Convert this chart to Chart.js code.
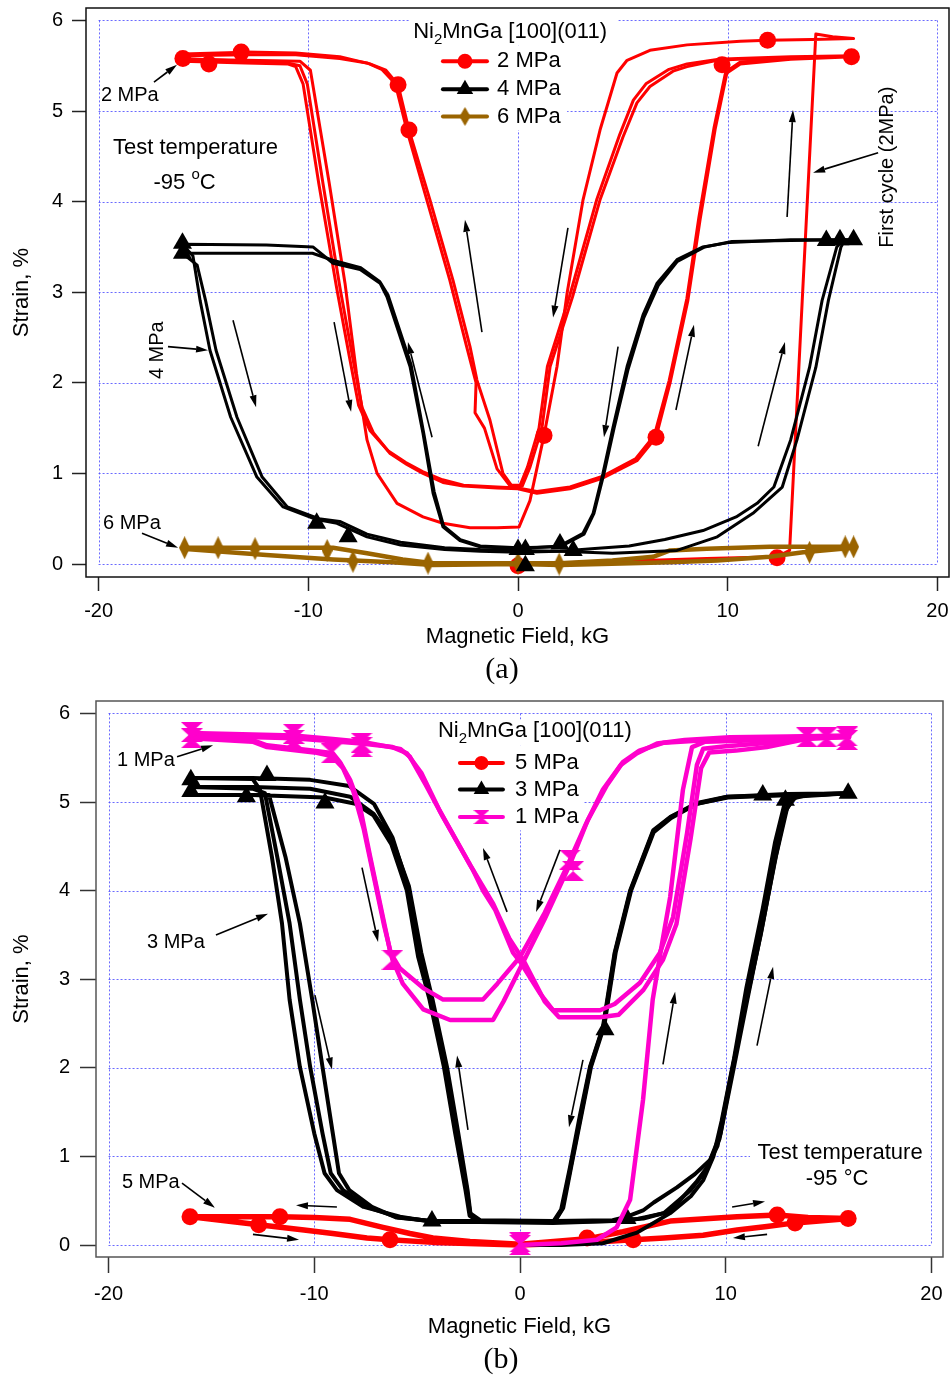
<!DOCTYPE html>
<html lang="en">
<head>
<meta charset="UTF-8">
<title>Ni2MnGa [100](011) strain vs magnetic field</title>
<script src="https://cdn.jsdelivr.net/npm/chart.js@4.4.1/dist/chart.umd.min.js"></script>
<style>
  html, body { margin: 0; padding: 0; background: #fff; }
  canvas { position: absolute; left: 0; }
</style>
</head>
<body>
<canvas id="panelA" width="951" height="690" style="top:0px"></canvas>
<canvas id="panelB" width="951" height="688" style="top:690px"></canvas>
<script>
const FONT = 'Arial, "Liberation Sans", Helvetica, sans-serif';
const SERIF = '"Times New Roman", "Liberation Serif", Times, serif';

const xTickValues = [-20, -10, 0, 10, 20];
const yTickValues = [0, 1, 2, 3, 4, 5, 6];

// ---------- panel (a): 2, 4 and 6 MPa ----------
// 2 MPa, first cycle starting from the origin
const a2First = [
  [0, 0.0], [3, 0.02], [6, 0.04], [9, 0.06], [12.35, 0.08], [12.95, 0.15], [13.55, 2.9],
  [14.2, 5.85], [15, 5.82], [16, 5.8], [14, 5.79], [11.9, 5.78], [10.6, 5.77], [8.06, 5.73],
  [6.29, 5.67], [5.2, 5.56], [4.72, 5.42], [3.91, 4.79], [3.1, 4.02], [2.34, 2.99], [1.86, 2.18],
  [1.24, 1.42], [0.57, 0.7], [0.05, 0.41], [-1, 0.4], [-2.29, 0.4], [-3.58, 0.45], [-4.53, 0.52],
  [-5.77, 0.67], [-6.72, 1.0], [-7.2, 1.37], [-7.7, 2.1], [-8.25, 3.1], [-9.0, 4.2], [-9.9, 5.45],
  [-10.4, 5.55], [-13, 5.56], [-16, 5.57]
];
const a2Cycle1 = [
  [-16, 5.58], [-13, 5.55], [-11, 5.53], [-10.4, 5.5], [-10.05, 5.3], [-9.3, 4.2], [-8.49, 3.05],
  [-7.9, 2.3], [-7.44, 1.73], [-6.9, 1.45], [-6.1, 1.22], [-5.3, 1.1], [-4.53, 1.0], [-3.58, 0.9],
  [-2.62, 0.86], [-1, 0.84], [0, 0.83], [0.9, 0.78], [2.48, 0.83], [4.05, 0.95], [5.67, 1.14],
  [6.58, 1.4], [7.25, 2.0], [8.1, 2.91], [8.68, 3.8], [9.4, 4.8], [9.96, 5.42], [10.6, 5.52],
  [13, 5.57], [16, 5.6],
  [13, 5.58], [10.5, 5.57], [9.5, 5.56], [8.06, 5.49], [7.39, 5.44], [6.29, 5.27], [5.67, 5.09],
  [5.0, 4.71], [3.91, 4.02], [2.6, 2.95], [1.53, 2.18], [1.14, 1.5], [0.57, 1.07], [0.2, 0.86],
  [-0.29, 0.86], [-0.72, 1.0], [-1.34, 1.59], [-1.96, 2.03], [-2.29, 2.4], [-3.1, 3.13],
  [-4.2, 4.02], [-5.2, 4.79], [-5.72, 5.29], [-6.3, 5.45], [-7.06, 5.52], [-8.5, 5.6],
  [-10.6, 5.64], [-13, 5.65], [-16, 5.63]
];
const a2Cycle2 = [
  [-16, 5.55], [-13, 5.53], [-11, 5.52], [-10.6, 5.49], [-10.25, 5.3], [-9.5, 4.2], [-8.65, 3.05],
  [-8.05, 2.3], [-7.6, 1.75], [-7.05, 1.47], [-6.2, 1.25], [-5.35, 1.12], [-4.55, 1.02], [-3.6, 0.93],
  [-2.6, 0.87], [-1, 0.85], [0, 0.84], [0.9, 0.8], [2.48, 0.85], [4.05, 0.97], [5.6, 1.16],
  [6.5, 1.42], [7.2, 2.02], [8.05, 2.93], [8.62, 3.82], [9.35, 4.82], [9.9, 5.43], [10.6, 5.54],
  [13, 5.58], [16, 5.61],
  [13, 5.6], [10.5, 5.58], [9.5, 5.57], [8.06, 5.52], [7.2, 5.46], [6.1, 5.3], [5.5, 5.12],
  [4.85, 4.74], [3.75, 4.02], [2.45, 2.95], [1.4, 2.18], [1.0, 1.5], [0.45, 1.07], [0.1, 0.87],
  [-0.4, 0.87], [-1.0, 1.05], [-1.6, 1.5], [-2.05, 1.67], [-2.0, 2.0], [-2.45, 2.4], [-3.25, 3.13],
  [-4.35, 4.02], [-5.3, 4.79], [-5.85, 5.3], [-6.5, 5.46], [-7.2, 5.53], [-8.5, 5.58],
  [-10.6, 5.62], [-13, 5.62], [-16, 5.61]
];
const a2Markers = [
  [-15.98, 5.58], [-14.74, 5.52], [-13.2, 5.65], [-5.72, 5.29], [-5.2, 4.79], [0, -0.02],
  [1.24, 1.42], [6.58, 1.4], [9.73, 5.51], [11.9, 5.78], [12.35, 0.07], [15.9, 5.6]
];

// 4 MPa
const a4Cycle1 = [
  [16, 3.58], [13, 3.58], [10.1, 3.55], [8.82, 3.5], [7.58, 3.36], [6.63, 3.1], [5.96, 2.75],
  [5.2, 2.18], [4.53, 1.51], [4.05, 1.0], [3.58, 0.56], [3.1, 0.34], [2.0, 0.2], [0, 0.17],
  [-1.81, 0.19], [-2.77, 0.26], [-3.58, 0.41], [-4.05, 0.78], [-4.53, 1.44], [-5.15, 2.18],
  [-6.25, 2.95], [-6.58, 3.1], [-7.53, 3.25], [-8.82, 3.32], [-9.78, 3.5], [-12, 3.52], [-16, 3.53],
  [-15.5, 3.4], [-15.16, 2.91], [-14.69, 2.36], [-13.7, 1.62], [-12.45, 0.96], [-11.2, 0.63],
  [-9.6, 0.49], [-8.63, 0.45], [-7.2, 0.3], [-5.6, 0.21], [-3.5, 0.16], [-1.8, 0.14], [0, 0.13],
  [2.0, 0.14], [3.5, 0.17], [5.3, 0.2], [7.0, 0.27], [8.82, 0.37], [10.4, 0.52], [11.4, 0.67],
  [12.2, 0.85], [13.0, 1.37], [13.9, 2.17], [14.5, 2.91], [15.2, 3.5], [15.5, 3.58]
];
const a4Cycle2 = [
  [15.8, 3.58], [13, 3.57], [10.2, 3.56], [8.9, 3.5], [7.6, 3.34], [6.7, 3.08], [6.0, 2.72],
  [5.25, 2.15], [4.58, 1.5], [4.1, 1.0], [3.62, 0.56], [3.15, 0.33], [2.0, 0.19], [0, 0.18],
  [-1.8, 0.2], [-2.75, 0.27], [-3.55, 0.42], [-4.0, 0.8], [-4.5, 1.45], [-5.1, 2.2], [-6.2, 2.97],
  [-6.6, 3.12], [-7.5, 3.27], [-8.8, 3.35], [-9.8, 3.43], [-12, 3.43], [-16, 3.43],
  [-15.3, 3.3], [-14.9, 2.91], [-14.4, 2.36], [-13.4, 1.62], [-12.2, 0.96], [-11.0, 0.63],
  [-9.5, 0.5], [-8.5, 0.47], [-7.2, 0.33], [-5.6, 0.24], [-3.5, 0.18], [-1.8, 0.16], [0, 0.15],
  [2, 0.14], [4.5, 0.12], [7.58, 0.15], [9.5, 0.3], [11.2, 0.56], [12.6, 0.85], [13.3, 1.37],
  [14.2, 2.17], [14.8, 2.91], [15.4, 3.5], [15.6, 3.58]
];
const a4Markers = [
  [-16, 3.54], [-16, 3.43], [-9.6, 0.45], [-8.1, 0.3], [0, 0.16], [0.35, 0.16], [0.35, -0.02],
  [2.0, 0.22], [2.63, 0.15], [14.7, 3.57], [15.35, 3.58], [16, 3.58]
];

// 6 MPa
const a6Upper = [
  [-16, 0.18], [-12, 0.18], [-8.82, 0.18], [-7.2, 0.12], [-5.5, 0.05], [-4.05, 0.01], [0, 0.01],
  [2, 0.01], [4.5, 0.04], [6.44, 0.08], [7.25, 0.15], [9, 0.17], [12, 0.19], [16, 0.19]
];
const a6Lower = [
  [16, 0.18], [13.6, 0.13], [12, 0.08], [9.5, 0.04], [7.25, 0.02], [4, 0.0], [2, -0.01], [0, 0.0],
  [-4.05, -0.01], [-6, 0.02], [-8.82, 0.05], [-12, 0.1], [-16, 0.17]
];
const a6Markers = [
  [-15.9, 0.18], [-14.3, 0.18], [-12.54, 0.17], [-9.1, 0.15], [-7.87, 0.03], [-4.29, 0.01],
  [0, 0.01], [1.96, 0.0], [13.9, 0.13], [15.6, 0.19], [16, 0.19]
];

// ---------- panel (b): 5, 3 and 1 MPa ----------
// 5 MPa
const b5Loop = [
  [-16, 0.32], [-14, 0.32], [-11.67, 0.32], [-10, 0.31], [-8.26, 0.29], [-6.66, 0.2], [-5.35, 0.13],
  [-4.23, 0.08], [-2.43, 0.04], [0, 0.01], [3.26, 0.07], [5, 0.15], [7.3, 0.27], [10.55, 0.32],
  [12.5, 0.34], [14, 0.31], [16, 0.3],
  [13.37, 0.25], [12, 0.21], [10.55, 0.17], [8.9, 0.11], [7, 0.08], [5.5, 0.06], [3.26, 0.03],
  [0, 0.0], [-4.23, 0.03], [-6.32, 0.06], [-7.44, 0.08], [-9.1, 0.13], [-10.5, 0.17],
  [-12.7, 0.23], [-16, 0.32]
];
const b5Markers = [
  [-16.04, 0.32], [-12.7, 0.23], [-11.67, 0.32], [-6.32, 0.06], [3.26, 0.08], [5.5, 0.06],
  [12.5, 0.34], [13.37, 0.25], [15.95, 0.3]
];

// 3 MPa
const b3First = [
  [0, 0.0], [2, 0.0], [4.03, 0.02], [5.69, 0.14], [7.3, 0.36], [8.3, 0.55], [8.9, 0.73], [9.4, 1.0],
  [9.8, 1.4], [10.4, 2.1], [11.0, 2.9], [11.8, 3.8], [12.4, 4.55], [12.9, 5.02], [14, 5.08], [16, 5.1]
];
const b3CycleA = [
  [16, 5.1], [13.5, 5.08], [13.0, 4.95], [12.45, 4.4], [11.8, 3.63], [11.05, 2.77], [10.4, 2.01],
  [9.75, 1.26], [9.24, 0.96], [8.5, 0.8], [7.63, 0.65], [6.5, 0.48], [5.98, 0.39], [5.2, 0.32],
  [4.5, 0.28], [1.6, 0.27], [-1.94, 0.28], [-2.43, 0.36], [-2.6, 0.65], [-3.1, 1.26], [-3.65, 2.01],
  [-4.35, 2.77], [-4.9, 3.3], [-5.45, 4.05], [-6.2, 4.6], [-7.1, 4.98], [-8.3, 5.18], [-10.2, 5.25],
  [-13, 5.27], [-16, 5.27],
  [-13, 5.26], [-12.64, 5.14], [-12.06, 4.38], [-11.57, 3.63], [-11.2, 2.77], [-10.7, 2.01],
  [-10.0, 1.26], [-9.5, 0.81], [-8.9, 0.62], [-7.6, 0.43], [-5.83, 0.32], [-4.23, 0.26], [0, 0.26],
  [1.6, 0.26], [2.0, 0.4], [2.43, 0.88], [2.9, 1.45], [3.4, 2.01], [4.03, 2.46], [4.6, 3.3],
  [5.35, 4.0], [6.47, 4.68], [7.3, 4.83], [8.6, 4.99], [10.06, 5.06], [13, 5.08], [16, 5.1]
];
const b3CycleB = [
  [16, 5.1], [13.4, 5.07], [12.9, 4.9], [12.35, 4.3], [11.7, 3.5], [10.95, 2.7], [10.3, 1.95],
  [9.7, 1.2], [9.1, 0.88], [8.6, 0.72], [7.3, 0.38], [6.0, 0.3], [4.5, 0.27], [1.6, 0.26],
  [-1.9, 0.27], [-2.4, 0.34], [-2.55, 0.62], [-3.0, 1.26], [-3.55, 2.01], [-4.25, 2.77],
  [-4.8, 3.3], [-5.4, 4.05], [-6.2, 4.57], [-7.13, 4.87], [-8.26, 5.06], [-10.2, 5.15], [-13, 5.17],
  [-16, 5.17],
  [-13, 5.15], [-12.4, 5.1], [-11.8, 4.38], [-11.2, 3.63], [-10.7, 2.77], [-10.2, 2.01],
  [-9.6, 1.26], [-9.2, 0.81], [-8.6, 0.62], [-7.44, 0.43], [-5.9, 0.31], [-4.23, 0.27], [0, 0.27],
  [1.7, 0.27], [2.1, 0.42], [2.5, 0.9], [3.45, 2.01], [4.1, 2.48], [4.65, 3.3], [5.4, 4.0],
  [6.5, 4.66], [7.35, 4.82], [8.6, 4.98], [10.1, 5.05], [13, 5.08], [16, 5.1]
];
const b3CycleC = [
  [16, 5.1], [13.3, 5.06], [12.8, 4.85], [12.2, 4.2], [11.55, 3.4], [10.9, 2.65], [10.2, 1.85],
  [9.6, 1.12], [9.0, 0.83], [8.3, 0.62], [7.0, 0.36], [5.6, 0.29], [4.5, 0.27], [1.6, 0.25],
  [-1.95, 0.26], [-2.45, 0.33], [-2.65, 0.62], [-3.15, 1.26], [-3.7, 2.01], [-4.4, 2.77],
  [-4.95, 3.25], [-5.5, 4.0], [-6.25, 4.52], [-7.13, 4.85], [-8.0, 4.98], [-9.5, 5.05], [-13, 5.08],
  [-16, 5.08],
  [-13, 5.08], [-12.2, 5.08], [-11.4, 4.38], [-10.7, 3.63], [-10.1, 2.77], [-9.6, 2.01],
  [-9.1, 1.26], [-8.8, 0.81], [-8.3, 0.62], [-7.2, 0.43], [-6.0, 0.31], [-4.3, 0.27], [0, 0.26],
  [1.65, 0.26], [2.05, 0.41], [2.47, 0.89], [3.42, 2.01], [4.06, 2.47], [4.62, 3.3], [5.37, 4.0],
  [6.48, 4.67], [7.32, 4.83], [8.6, 4.98], [10.1, 5.06], [13, 5.09], [16, 5.1]
];
const b3Markers = [
  [-16, 5.25], [-16, 5.12], [-13.3, 5.06], [-12.3, 5.3], [-9.48, 4.99], [-4.28, 0.27],
  [4.13, 2.43], [5.2, 0.3], [11.8, 5.08], [12.9, 5.02], [15.95, 5.1]
];

// 1 MPa
const b1First = [
  [0, 0.0], [2, 0.02], [3.74, 0.06], [4.7, 0.2], [5.35, 0.51], [5.98, 1.64], [6.45, 2.77],
  [6.9, 3.4], [7.3, 3.93], [7.92, 5.14], [8.36, 5.62], [9, 5.68], [12, 5.7], [14, 5.72], [16, 5.73]
];
const b1Cycle1 = [
  [-16, 5.74], [-13, 5.7], [-12.3, 5.64], [-10, 5.58], [-9.1, 5.55], [-8.75, 5.45], [-8.26, 5.25],
  [-7.78, 4.95], [-7.3, 4.4], [-6.8, 3.85], [-6.3, 3.3], [-5.83, 3.12], [-4.7, 2.9], [-3.74, 2.77],
  [-1.8, 2.77], [-1.1, 2.95], [0, 3.25], [1.2, 3.75], [2.28, 4.27], [3.2, 4.75], [4.03, 5.14],
  [4.9, 5.42], [5.69, 5.55], [6.66, 5.66], [8, 5.7], [10.2, 5.73], [13, 5.74], [16, 5.75],
  [14, 5.73], [12.15, 5.67], [10, 5.63], [8.9, 5.6], [8.6, 5.42], [8.12, 4.65], [7.44, 3.7],
  [6.8, 3.3], [5.83, 2.96], [4.6, 2.72], [3.89, 2.65], [1.6, 2.65], [0.97, 2.84], [0, 3.2],
  [-0.34, 3.3], [-1.2, 3.78], [-1.8, 4.0], [-2.28, 4.23], [-3.74, 4.83], [-4.6, 5.2], [-5.35, 5.51],
  [-5.83, 5.6], [-7.7, 5.68], [-9.1, 5.71], [-11, 5.75], [-16, 5.78]
];
const b1Cycle2 = [
  [-16, 5.72], [-13, 5.68], [-12.3, 5.62], [-10, 5.56], [-9.16, 5.52], [-8.6, 5.38], [-8.1, 5.12],
  [-7.6, 4.7], [-7.1, 4.15], [-6.6, 3.6], [-6.2, 3.22], [-5.7, 2.95], [-4.7, 2.66], [-3.4, 2.54],
  [-1.31, 2.54], [-0.8, 2.75], [0, 3.12], [1.2, 3.68], [2.43, 4.3], [3.3, 4.8], [4.2, 5.18],
  [5.0, 5.45], [5.8, 5.58], [7, 5.67], [10, 5.71], [13, 5.73], [16, 5.74],
  [13.9, 5.71], [12, 5.62], [10.5, 5.58], [9.2, 5.56], [8.8, 5.38], [8.3, 4.6], [7.6, 3.62],
  [6.95, 3.22], [6.0, 2.88], [4.8, 2.6], [3.89, 2.57], [1.9, 2.57], [1.2, 2.75], [0.2, 3.2],
  [-0.5, 3.45], [-1.3, 3.85], [-2.4, 4.28], [-3.9, 4.9], [-4.8, 5.33], [-5.5, 5.55], [-6.2, 5.62],
  [-7.7, 5.66], [-11, 5.72], [-16, 5.75]
];
const b1Markers = [
  [-15.95, 5.79], [-15.95, 5.72], [-11.0, 5.77], [-11.0, 5.7], [-9.16, 5.55], [-7.7, 5.67],
  [-7.7, 5.62], [-6.2, 3.22], [2.43, 4.35], [2.58, 4.22], [0, 0.0], [0, 0.03], [13.95, 5.73],
  [14.9, 5.73], [15.9, 5.74], [15.9, 5.7]
];

// ---------- marker shapes not built into Chart.js ----------
function diamondShape(color, w, h) {
  const c = document.createElement('canvas');
  c.width = w; c.height = h;
  const g = c.getContext('2d');
  g.fillStyle = color;
  g.beginPath();
  g.moveTo(w / 2, 0); g.lineTo(w, h / 2); g.lineTo(w / 2, h); g.lineTo(0, h / 2);
  g.closePath(); g.fill();
  return c;
}
function hourglassShape(color, w, h) {
  const c = document.createElement('canvas');
  c.width = w; c.height = h;
  const g = c.getContext('2d');
  g.fillStyle = color;
  g.beginPath(); g.moveTo(0, 0); g.lineTo(w, 0); g.lineTo(w / 2, h / 2); g.closePath(); g.fill();
  g.beginPath(); g.moveTo(0, h); g.lineTo(w, h); g.lineTo(w / 2, h / 2); g.closePath(); g.fill();
  return c;
}

const RED = '#ff0000', BLACK = '#000000', BROWN = '#9a6400', MAGENTA = '#ff00cc';

const toPoints = arr => arr.map(([x, y]) => ({ x, y }));

function buildDatasets(series) {
  const sets = [];
  series.forEach(s => {
    s.traces.forEach(t => sets.push({
      data: toPoints(t), showLine: true, borderColor: s.color, borderWidth: s.width,
      pointRadius: 0, pointHitRadius: 0, tension: 0, order: s.order + 1,
      borderJoinStyle: 'round', borderCapStyle: 'round'
    }));
    sets.push({
      data: toPoints(s.markers), showLine: false, pointStyle: s.marker, pointRadius: s.radius,
      pointBackgroundColor: s.color, pointBorderColor: s.color, pointBorderWidth: 0, order: s.order
    });
  });
  return sets;
}

function drawText(ctx, text, px, py, size, align, rotate) {
  ctx.save();
  ctx.translate(px, py);
  if (rotate) ctx.rotate(rotate * Math.PI / 180);
  ctx.font = `${size}px ${FONT}`;
  ctx.textAlign = align || 'left';
  ctx.textBaseline = 'middle';
  ctx.fillStyle = '#000';
  ctx.fillText(text, 0, 0);
  ctx.restore();
}

// text with sub/superscripts, py is the baseline
function drawRich(ctx, parts, px, py, size, align) {
  ctx.save();
  ctx.fillStyle = '#000';
  ctx.textBaseline = 'alphabetic';
  ctx.textAlign = 'left';
  const small = Math.round(size * 0.68);
  const widthOf = p => { ctx.font = `${p.sub || p.sup ? small : size}px ${FONT}`; return ctx.measureText(p.t).width; };
  const total = parts.reduce((s, p) => s + widthOf(p), 0);
  let x = align === 'center' ? px - total / 2 : px;
  parts.forEach(p => {
    const w = widthOf(p);
    const dy = p.sub ? size * 0.28 : p.sup ? -size * 0.45 : 0;
    ctx.fillText(p.t, x, py + dy);
    x += w;
  });
  ctx.restore();
}

function drawArrow(ctx, x1, y1, x2, y2) {
  const ang = Math.atan2(y2 - y1, x2 - x1);
  const len = 12, half = 3.5;
  const bx = x2 - Math.cos(ang) * len, by = y2 - Math.sin(ang) * len;
  ctx.beginPath(); ctx.moveTo(x1, y1); ctx.lineTo(bx, by); ctx.stroke();
  ctx.beginPath(); ctx.moveTo(x2, y2);
  ctx.lineTo(bx + Math.sin(ang) * half, by - Math.cos(ang) * half);
  ctx.lineTo(bx - Math.sin(ang) * half, by + Math.cos(ang) * half);
  ctx.closePath(); ctx.fill();
}

function decorations(panel) {
  return {
    id: 'decor',
    beforeDatasetsDraw(chart) {
      const { ctx, scales: { x, y } } = chart;
      const px = v => x.getPixelForValue(v), py = v => y.getPixelForValue(v);
      ctx.save();
      // dotted grid over the labelled range only
      ctx.strokeStyle = 'rgba(80, 80, 255, 0.85)';
      ctx.lineWidth = 1;
      ctx.setLineDash([2, 2]);
      const gx0 = px(xTickValues[0]), gx1 = px(xTickValues[xTickValues.length - 1]);
      const gy0 = py(yTickValues[0]), gy1 = py(yTickValues[yTickValues.length - 1]);
      ctx.beginPath();
      xTickValues.forEach(v => { const p = Math.round(px(v)) + 0.5; ctx.moveTo(p, gy1); ctx.lineTo(p, gy0); });
      yTickValues.forEach(v => { const p = Math.round(py(v)) + 0.5; ctx.moveTo(gx0, p); ctx.lineTo(gx1, p); });
      ctx.stroke();
      ctx.setLineDash([]);
      // opaque backgrounds behind legend and notes
      ctx.fillStyle = '#fff';
      panel.blanks.forEach(([x1, y1, x2, y2]) => {
        ctx.fillRect(px(x1), py(y1), px(x2) - px(x1), py(y2) - py(y1));
      });
      ctx.restore();
    },
    afterDatasetsDraw(chart) {
      const { ctx, chartArea: a, scales: { x, y } } = chart;
      const px = v => x.getPixelForValue(v), py = v => y.getPixelForValue(v);
      ctx.save();
      // frame
      ctx.strokeStyle = panel.frame;
      ctx.lineWidth = 1.5;
      ctx.strokeRect(a.left, a.top, a.right - a.left, a.bottom - a.top);

      // legend
      const lg = panel.legend;
      drawRich(ctx, lg.title, px(lg.titleX), py(lg.titleY), 22, 'left');
      panel.series.forEach((s, i) => {
        const yy = py(lg.rows[i]);
        const x1 = px(lg.lineFrom), x2 = px(lg.lineTo);
        ctx.strokeStyle = s.color;
        ctx.fillStyle = s.color;
        ctx.lineWidth = 4;
        ctx.lineCap = 'round';
        ctx.beginPath(); ctx.moveTo(x1, yy); ctx.lineTo(x2, yy); ctx.stroke();
        Chart.helpers.drawPoint(ctx, { pointStyle: s.legendMarker, radius: s.legendRadius, rotation: 0, borderWidth: 0 }, (x1 + x2) / 2, yy);
        drawText(ctx, s.label, px(lg.textX), yy, 22, 'left');
      });

      // notes
      panel.notes.forEach(n => drawText(ctx, n.t, px(n.x), py(n.y), n.size, n.align, n.rotate));
      panel.richNotes.forEach(n => drawRich(ctx, n.parts, px(n.x), py(n.y), n.size, n.align));

      // direction arrows
      ctx.strokeStyle = '#000';
      ctx.fillStyle = '#000';
      ctx.lineWidth = 1.6;
      ctx.lineCap = 'butt';
      panel.arrows.forEach(([x1, y1, x2, y2]) => drawArrow(ctx, px(x1), py(y1), px(x2), py(y2)));
      ctx.restore();
    },
    afterDraw(chart) {
      const { ctx } = chart;
      ctx.save();
      ctx.font = `30px ${SERIF}`;
      ctx.textAlign = 'center';
      ctx.textBaseline = 'middle';
      ctx.fillStyle = '#000';
      ctx.fillText(panel.tag, panel.tagAt[0], panel.tagAt[1]);
      ctx.restore();
    }
  };
}

// axis boxes get a fixed size and no label overhang padding, so the plot area lands where it should
function fixBox(s, size) {
  if (s.isHorizontal()) s.height = size; else s.width = size;
  s.paddingTop = 0; s.paddingBottom = 0; s.paddingLeft = 0; s.paddingRight = 0;
}

function makeChart(panel) {
  const axisFont = { family: FONT, size: 20 };
  const titleFont = { family: FONT, size: 22 };
  return new Chart(document.getElementById(panel.canvas), {
    type: 'scatter',
    data: { datasets: buildDatasets(panel.series) },
    options: {
      responsive: false,
      animation: false,
      events: [],
      layout: { autoPadding: false, padding: { top: panel.padTop, right: panel.padRight, left: 0, bottom: 0 } },
      plugins: { legend: { display: false }, tooltip: { enabled: false } },
      scales: {
        x: {
          type: 'linear',
          min: panel.xRange[0], max: panel.xRange[1],
          afterBuildTicks: s => { s.ticks = xTickValues.map(v => ({ value: v })); },
          afterFit: s => fixBox(s, panel.xAxisHeight),
          border: { display: false },
          grid: { drawOnChartArea: false, drawTicks: true, tickLength: panel.tickLength, tickWidth: 1.5, tickColor: panel.tickColor },
          ticks: { color: '#000', font: axisFont, padding: panel.xTickPad, maxRotation: 0, autoSkip: false },
          title: { display: true, text: 'Magnetic Field, kG', color: '#000', font: titleFont, padding: { top: 0, bottom: panel.xTitlePad } }
        },
        y: {
          type: 'linear',
          min: panel.yRange[0], max: panel.yRange[1],
          afterBuildTicks: s => { s.ticks = yTickValues.map(v => ({ value: v })); },
          afterFit: s => fixBox(s, panel.yAxisWidth),
          border: { display: false },
          grid: { drawOnChartArea: false, drawTicks: true, tickLength: panel.tickLength, tickWidth: 1.5, tickColor: panel.tickColor },
          ticks: { color: '#000', font: axisFont, padding: panel.yTickPad },
          title: { display: true, text: 'Strain, %', color: '#000', font: titleFont, padding: { top: 9, bottom: 0 } }
        }
      }
    },
    plugins: [decorations(panel)]
  });
}

const diamondBig = diamondShape(BROWN, 11, 23);
const diamondLegend = diamondShape(BROWN, 11, 19);
const hourglassBig = hourglassShape(MAGENTA, 22, 20);
const hourglassLegend = hourglassShape(MAGENTA, 16, 14);

const legendTitle = [{ t: 'Ni' }, { t: '2', sub: true }, { t: 'MnGa [100](011)' }];

makeChart({
  canvas: 'panelA',
  xRange: [-20.6, 20.55], yRange: [-0.143, 6.137],
  padTop: 8, padRight: 2, yAxisWidth: 86, xAxisHeight: 113,
  tickLength: 14, xTickPad: 8, yTickPad: 9, xTitlePad: 40,
  tickColor: '#222', frame: '#111',
  series: [
    { label: '2 MPa', color: RED, width: 3, traces: [a2First, a2Cycle1, a2Cycle2], markers: a2Markers,
      marker: 'circle', radius: 8.5, legendMarker: 'circle', legendRadius: 7.5, order: 5 },
    { label: '4 MPa', color: BLACK, width: 3, traces: [a4Cycle1, a4Cycle2], markers: a4Markers,
      marker: 'triangle', radius: 11, legendMarker: 'triangle', legendRadius: 9.5, order: 1 },
    { label: '6 MPa', color: BROWN, width: 4.5, traces: [a6Upper, a6Lower], markers: a6Markers,
      marker: diamondBig, radius: 8, legendMarker: diamondLegend, legendRadius: 8, order: 3 }
  ],
  legend: { title: legendTitle, titleX: -5.0, titleY: 5.81, lineFrom: -3.58, lineTo: -1.48, textX: -1.0, rows: [5.55, 5.24, 4.94] },
  blanks: [[-5.15, 6.03, 4.77, 5.72], [-3.72, 5.72, 2.34, 4.79]],
  notes: [
    { t: '2 MPa', x: -19.89, y: 5.17, size: 20 },
    { t: 'Test temperature', x: -15.38, y: 4.59, size: 22, align: 'center' },
    { t: '4 MPa', x: -17.2, y: 2.36, size: 20, align: 'center', rotate: -90 },
    { t: '6 MPa', x: -19.79, y: 0.45, size: 20 },
    { t: 'First cycle (2MPa)', x: 17.64, y: 4.38, size: 20, align: 'center', rotate: -90 }
  ],
  richNotes: [
    { parts: [{ t: '-95 ' }, { t: 'o', sup: true }, { t: 'C' }], x: -15.9, y: 4.14, size: 22, align: 'center' }
  ],
  arrows: [
    [-17.36, 5.32, -16.26, 5.51], [-16.69, 2.40, -14.78, 2.36], [-17.93, 0.34, -16.21, 0.18],
    [17.17, 4.54, 14.07, 4.32],
    [-13.59, 2.69, -12.49, 1.73], [-8.77, 2.67, -7.96, 1.68], [-4.10, 1.40, -5.25, 2.45],
    [-1.72, 2.56, -2.53, 3.80], [2.38, 3.71, 1.67, 2.72], [4.77, 2.40, 4.10, 1.40],
    [7.53, 1.70, 8.39, 2.64], [11.45, 1.30, 12.73, 2.45], [12.83, 3.83, 13.11, 5.01]
  ],
  tag: '(a)', tagAt: [502, 670]
});

makeChart({
  canvas: 'panelB',
  xRange: [-20.61, 20.56], yRange: [-0.135, 6.14],
  padTop: 11, padRight: 8, yAxisWidth: 96, xAxisHeight: 121,
  tickLength: 16, xTickPad: 9, yTickPad: 10, xTitlePad: 38,
  tickColor: '#333', frame: '#555',
  series: [
    { label: '5 MPa', color: RED, width: 5.5, traces: [b5Loop], markers: b5Markers,
      marker: 'circle', radius: 8.5, legendMarker: 'circle', legendRadius: 7, order: 5 },
    { label: '3 MPa', color: BLACK, width: 4, traces: [b3First, b3CycleA, b3CycleB, b3CycleC], markers: b3Markers,
      marker: 'triangle', radius: 11, legendMarker: 'triangle', legendRadius: 9, order: 3 },
    { label: '1 MPa', color: MAGENTA, width: 4.5, traces: [b1First, b1Cycle1, b1Cycle2], markers: b1Markers,
      marker: hourglassBig, radius: 8, legendMarker: hourglassLegend, legendRadius: 8, order: 1 }
  ],
  legend: { title: legendTitle, titleX: -3.99, titleY: 5.73, lineFrom: -2.92, lineTo: -0.83, textX: -0.24, rows: [5.44, 5.14, 4.83] },
  blanks: [[-4.03, 5.93, 6.08, 5.64], [-4.03, 5.64, 3.06, 4.68], [11.18, 1.19, 19.93, 0.6]],
  notes: [
    { t: '1 MPa', x: -19.59, y: 5.47, size: 20 },
    { t: '3 MPa', x: -18.13, y: 3.41, size: 20 },
    { t: '5 MPa', x: -19.35, y: 0.71, size: 20 },
    { t: 'Test temperature', x: 15.56, y: 1.04, size: 22, align: 'center' },
    { t: '-95 °C', x: 15.41, y: 0.745, size: 22, align: 'center' }
  ],
  richNotes: [],
  arrows: [
    [-16.67, 5.51, -14.92, 5.64], [-14.78, 3.50, -12.25, 3.74], [-16.43, 0.70, -14.83, 0.42],
    [-9.97, 2.82, -9.14, 1.98], [-7.68, 4.26, -6.90, 3.42], [-2.53, 1.30, -3.06, 2.14],
    [-0.63, 3.76, -1.80, 4.48], [1.94, 4.46, 0.78, 3.76], [3.06, 2.09, 2.38, 1.33],
    [6.95, 2.04, 7.54, 2.86], [11.52, 2.25, 12.30, 3.14],
    [-8.90, 0.43, -10.89, 0.45], [-12.98, 0.12, -10.74, 0.06],
    [10.31, 0.43, 11.91, 0.49], [12.01, 0.12, 10.35, 0.08]
  ],
  tag: '(b)', tagAt: [501, 670]
});
</script>
</body>
</html>
